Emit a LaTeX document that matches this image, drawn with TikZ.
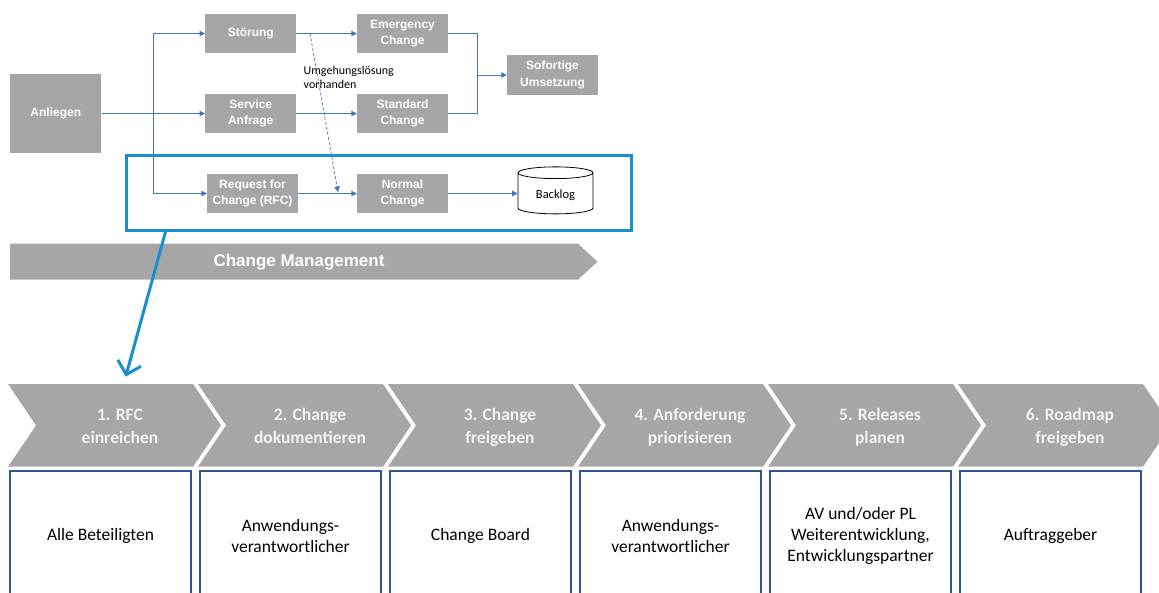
\documentclass[tikz,border=0pt]{standalone}
\usepackage{fontspec}
\setmainfont{Carlito}
\newfontfamily\arialf{Liberation Sans}
\usetikzlibrary{arrows.meta,shapes.geometric}
\definecolor{boxgray}{HTML}{A6A6A6}
\definecolor{lineblue}{HTML}{4472C4}
\definecolor{focusblue}{HTML}{1A8FCF}
\definecolor{frameblue}{HTML}{2F5597}
\definecolor{chevtxt}{HTML}{F2F2F2}
\begin{document}
\begin{tikzpicture}[x=1pt,y=-1pt,
  tbox/.style={fill=boxgray, text=white, font=\arialf\bfseries\fontsize{12}{16.5}\selectfont,
    align=center, minimum width=91pt, minimum height=39.5pt, inner sep=0pt},
  lnk/.style={draw=lineblue, line width=0.9pt},
  conn/.style={lnk, -{Triangle[length=5.5pt,width=5.5pt]}},
  chevfill/.style={fill=boxgray},
  chevtext/.style={text=chevtxt, font=\bfseries\fontsize{17.5}{22.7}\selectfont, align=center,
    text height=34pt, text depth=5pt, inner sep=0pt},
  rolebox/.style={draw=frameblue, line width=1.6pt, minimum width=181pt, minimum height=130pt,
    font=\fontsize{17.5}{21}\selectfont, align=center, inner sep=0pt},
  labeltext/.style={font=\fontsize{12}{14.3}\selectfont, align=left, anchor=north west, inner sep=0pt},
]
\useasboundingbox (0,0) rectangle (1159,592);
\clip (0,0) rectangle (1159,592);

% top diagram boxes
\node[tbox, minimum height=79pt] (anl) at (55.8,113.5) {Anliegen};
\node[tbox] (stoer) at (250.75,33.5) {Störung};
\node[tbox] (serv) at (250.75,113.5) {Service\\Anfrage};
\node[tbox] (rfc) at (252.5,193.5) {Request for\\Change (RFC)};
\node[tbox] (emer) at (402.5,33.5) {Emergency\\Change};
\node[tbox] (std) at (402.5,113.5) {Standard\\Change};
\node[tbox] (norm) at (402.5,193.5) {Normal\\Change};
\node[tbox] (sof) at (552.5,75) {Sofortige\\Umsetzung};
\node[cylinder, shape border rotate=90, aspect=0.3, draw=black, line width=0.8pt, fill=white,
  minimum width=75pt, minimum height=47pt, inner sep=0pt,
  text height=12pt, text depth=3pt,
  font=\fontsize{12.5}{14}\selectfont] (bl) at (555.5,193.5) {Backlog};

% connectors
\coordinate (sp) at (153.4,113.5);
\draw[conn] (anl.east) -- (serv.west);
\draw[conn] (sp) |- (stoer.west);
\draw[conn] (sp) |- (rfc.west);
\draw[conn] (stoer.east) -- (emer.west);
\draw[conn] (serv.east) -- (std.west);
\draw[conn] (rfc.east) -- (norm.west);
\draw[conn] (norm.east) -- (bl.west);
\coordinate (jn) at (477,75);
\draw[lnk] (emer.east) -| (jn);
\draw[lnk] (std.east) -| (jn);
\draw[conn] (jn) -- (sof.west);
\coordinate (d0) at (310,33.5);
\coordinate (d1) at (338,192);
\draw[conn, dash pattern=on 3pt off 2pt, line width=0.7pt] (d0) -- (d1);
\node[labeltext] (umg) at (303.5,66) {Umgehungslösung\\vorhanden};

% focus frame
\node[draw=focusblue, line width=3pt, minimum width=504.5pt, minimum height=74.3pt, inner sep=0pt]
  (focus) at (378.75,192.85) {};

% change management arrow
\fill[boxgray] (10,243.7) -- (578,243.7) -- (597.6,261.7) -- (578,279.7) -- (10,279.7) -- cycle;
\node[text=white, font=\arialf\bfseries\fontsize{17}{20}\selectfont] (cm) at (299,262) {Change Management};

% blue zoom arrow
\coordinate (bs) at (166,230);
\coordinate (be) at (125.7,376.7);
\draw[focusblue, line width=3pt, -{Straight Barb[length=12pt,width=24pt,line width=3pt]}] (bs) -- (be);

% process chevrons and role boxes
\foreach \i/\ta/\tb in {1/{1. RFC\\einreichen}/{Alle Beteiligten},
  2/{2. Change\\dokumentieren}/{Anwendungs-\\verantwortlicher},
  3/{3. Change\\freigeben}/{Change Board},
  4/{4. Anforderung\\priorisieren}/{Anwendungs-\\verantwortlicher},
  5/{5. Releases\\planen}/{AV und/oder PL\\Weiterentwicklung,\\Entwicklungspartner},
  6/{6. Roadmap\\freigeben}/{Auftraggeber}}{
  \pgfmathsetmacro\L{8+190*(\i-1)}
  \fill[chevfill] (\L,384) -- ++(185,0) -- ++(28,41.35) -- ++(-28,41.35) -- ++(-185,0) -- ++(28,-41.35) -- cycle;
  \node[chevtext] (chev\i) at (\L+112,429) {\ta};
  \node[rolebox] (role\i) at (\L+92.5,536) {\tb};
}
\end{tikzpicture}
\end{document}
